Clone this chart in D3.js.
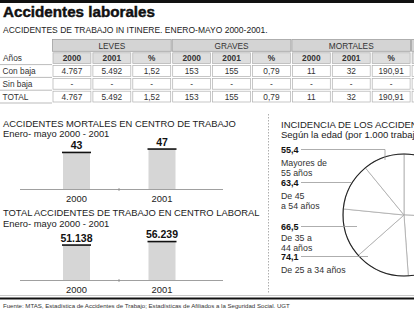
<!DOCTYPE html>
<html>
<head>
<meta charset="utf-8">
<script src="https://cdnjs.cloudflare.com/ajax/libs/d3/7.8.5/d3.min.js"></script>
<style>
  body { margin: 0; background: #fff; }
  svg { display: block; font-family: Arial, "Liberation Sans", sans-serif; }
  .cell-text { fill: #333; font-size: 8.3px; }
</style>
</head>
<body>
<script>
// table
const groups = ['LEVES', 'GRAVES', 'MORTALES'];
const subCols = ['2000', '2001', '%'];
const rowLabels = ['Con baja', 'Sin baja', 'TOTAL'];
const levesVals = [['4.767', '5.492', '1,52'], ['-', '-', '-'], ['4.767', '5.492', '1,52']];
const gravesVals = [['153', '155', '0,79'], ['-', '-', '-'], ['153', '155', '0,79']];
const mortalesVals = [['11', '32', '190,91'], ['-', '-', '-'], ['11', '32', '190,91']];

// bars
const years = ['2000', '2001'];
const mortalesCentro = [43, 47];
const totalCentro = [51138, 56239];

// pie (the right half is cut off in the original)
const edades = ['De 16 a 19 años', 'De 20 a 24 años', 'De 25 a 34 años', 'De 35 a 44 años', 'De 45 a 54 años', 'Mayores de 55 años'];
const incidencia = [130, 118, 74.1, 66.5, 63.4, 55.4];

const W = 414, H = 311;
const es = d3.formatLocale({decimal: ',', thousands: '.', grouping: [3], currency: ['', '€']});
const fmt = es.format(',d');

const svg = d3.select('body').append('svg')
  .attr('width', W)
  .attr('height', H);

// top bar + title
svg.append('rect').attr('x', 0).attr('y', 0).attr('width', W).attr('height', 3).attr('fill', '#111');
svg.append('text')
  .attr('x', 3).attr('y', 17)
  .attr('font-size', 15.2).attr('font-weight', 'bold').attr('fill', '#111')
  .attr('stroke', '#111').attr('stroke-width', 0.45)
  .text('Accidentes laborales');
svg.append('text')
  .attr('x', 3).attr('y', 32.5)
  .attr('font-size', 8.5).attr('fill', '#222')
  .text('ACCIDENTES DE TRABAJO IN ITINERE. ENERO-MAYO 2000-2001.');

// ---- table ----
const colX = d3.scaleBand().domain(d3.range(10)).range([52, 451]);
const rowY = d3.scaleBand().domain(['h1', 'h2'].concat(rowLabels)).range([39, 103]);

const table = svg.append('g');

// label column
table.append('text').attr('class', 'cell-text').attr('font-size', 8.6)
  .attr('x', 3).attr('y', rowY('h2') + 9.5).text('Años');
rowLabels.forEach(function(r) {
  table.append('text').attr('class', 'cell-text').attr('font-size', 9)
    .attr('x', 2.5).attr('y', rowY(r) + 9.7).text(r);
});
['h2'].concat(rowLabels).forEach(function(r) {
  table.append('line')
    .attr('x1', 0).attr('x2', 52)
    .attr('y1', rowY(r) + rowY.bandwidth()).attr('y2', rowY(r) + rowY.bandwidth())
    .attr('stroke', '#aaa').attr('stroke-width', 0.8);
});

// group headers
const allVals = [levesVals, gravesVals, mortalesVals];
groups.concat(['']).forEach(function(g, gi) {
  const x0 = colX(gi * 3);
  const wd = gi < 3 ? colX.step() * 3 : colX.step();
  table.append('rect')
    .attr('x', x0 + 0.5).attr('y', rowY('h1') + 0.5)
    .attr('width', wd - 1).attr('height', rowY.bandwidth() - 1)
    .attr('fill', '#d4d4d4').attr('stroke', '#a0a0a0').attr('stroke-width', 0.8);
  table.append('text').attr('class', 'cell-text').attr('font-size', 9.3)
    .attr('text-anchor', 'middle')
    .attr('x', x0 + wd / 2).attr('y', rowY('h1') + 10)
    .text(g);
});

// sub headers + cells
d3.range(10).forEach(function(ci) {
  const gi = Math.floor(ci / 3);
  const si = ci % 3;
  table.append('rect')
    .attr('x', colX(ci) + 1).attr('y', rowY('h2') + 1)
    .attr('width', colX.step() - 2).attr('height', rowY.bandwidth() - 2)
    .attr('fill', '#dedede').attr('stroke', '#b0b0b0').attr('stroke-width', 0.7);
  if (gi < 3) {
    table.append('text').attr('class', 'cell-text')
      .attr('font-size', 7.4).attr('font-weight', 'bold')
      .attr('text-anchor', 'middle')
      .attr('x', colX(ci) + colX.step() / 2).attr('y', rowY('h2') + 9)
      .text(subCols[si]);
  }
  rowLabels.forEach(function(r, ri) {
    table.append('rect')
      .attr('x', colX(ci) + 1).attr('y', rowY(r) + 1)
      .attr('width', colX.step() - 2).attr('height', rowY.bandwidth() - 2)
      .attr('fill', '#fff').attr('stroke', '#b0b0b0').attr('stroke-width', 0.7);
    if (gi < 3) {
      table.append('text').attr('class', 'cell-text')
        .attr('text-anchor', 'middle')
        .attr('x', colX(ci) + colX.step() / 2).attr('y', rowY(r) + 9.5)
        .text(allVals[gi][ri][si]);
    }
  });
});

// ---- separators ----
svg.append('line')
  .attr('x1', 268.5).attr('x2', 268.5).attr('y1', 114).attr('y2', 294)
  .attr('stroke', '#999').attr('stroke-width', 0.8).attr('stroke-dasharray', '1.5,1.5');
svg.append('line')
  .attr('x1', 0).attr('x2', W).attr('y1', 295.5).attr('y2', 295.5)
  .attr('stroke', '#bbb').attr('stroke-width', 0.8);
svg.append('rect').attr('x', 0).attr('y', 297.5).attr('width', W).attr('height', 2).attr('fill', '#111');
svg.append('text')
  .attr('x', 3).attr('y', 307.5)
  .attr('font-size', 6.1).attr('fill', '#333')
  .text('Fuente: MTAS, Estadística de Accidentes de Trabajo; Estadísticas de Afiliados a la Seguridad Social. UGT');

// ---- bar charts ----
function barChart(top, base, title, values, maxVal, hMax) {
  const g = svg.append('g');
  g.append('text').attr('x', 3).attr('y', top).attr('font-size', 9.4).attr('fill', '#222').text(title);
  g.append('text').attr('x', 3).attr('y', top + 10.8).attr('font-size', 9.4).attr('fill', '#222').text('Enero- mayo 2000 - 2001');

  const x = d3.scalePoint().domain(years).range([76.5, 162]);
  const y = d3.scaleLinear().domain([0, maxVal]).range([base, base - hMax]);
  const bw = 27;

  g.append('line').attr('x1', 20).attr('x2', 223).attr('y1', base + 0.5).attr('y2', base + 0.5)
    .attr('stroke', '#888').attr('stroke-width', 0.8);
  g.append('line').attr('x1', 119).attr('x2', 119).attr('y1', base - 1).attr('y2', base + 2)
    .attr('stroke', '#888').attr('stroke-width', 0.8);

  g.selectAll('rect.bar').data(values).join('rect')
    .attr('class', 'bar')
    .attr('x', (d, i) => x(years[i]) - bw / 2)
    .attr('y', d => y(d))
    .attr('width', bw)
    .attr('height', d => base - y(d))
    .attr('fill', '#d6d6d6');
  g.selectAll('line.cap').data(values).join('line')
    .attr('class', 'cap')
    .attr('x1', (d, i) => x(years[i]) - bw / 2 - 1)
    .attr('x2', (d, i) => x(years[i]) + bw / 2 + 1)
    .attr('y1', d => y(d)).attr('y2', d => y(d))
    .attr('stroke', '#111').attr('stroke-width', 1.6);
  g.selectAll('text.val').data(values).join('text')
    .attr('class', 'val')
    .attr('x', (d, i) => x(years[i]))
    .attr('y', d => y(d) - 3.5)
    .attr('text-anchor', 'middle')
    .attr('font-size', 10.5).attr('font-weight', 'bold').attr('fill', '#111')
    .text(d => fmt(d));
  g.selectAll('text.yr').data(years).join('text')
    .attr('class', 'yr')
    .attr('x', d => x(d))
    .attr('y', base + 12.5)
    .attr('text-anchor', 'middle')
    .attr('font-size', 9.4).attr('fill', '#222')
    .text(d => d);
}

barChart(126.5, 189, 'ACCIDENTES MORTALES EN CENTRO DE TRABAJO', mortalesCentro, 50, 42.5);
barChart(216, 280, 'TOTAL ACCIDENTES  DE TRABAJO EN CENTRO LABORAL', totalCentro, 60000, 41);

// ---- pie ----
svg.append('text').attr('x', 281).attr('y', 128).attr('font-size', 9.5).attr('fill', '#222')
  .text('INCIDENCIA DE LOS ACCIDENTES');
svg.append('text').attr('x', 281).attr('y', 137.5).attr('font-size', 9.5).attr('fill', '#222')
  .text('Según la edad (por 1.000 trabajadores)');

const cx = 404, cy = 215, R = 61;
const pie = d3.pie().sort(null).value(d => d)(incidencia);
const arc = d3.arc().innerRadius(0).outerRadius(R);
const pg = svg.append('g').attr('transform', `translate(${cx},${cy})`);
pg.selectAll('path').data(pie).join('path')
  .attr('d', arc)
  .attr('fill', '#fff')
  .attr('stroke', '#aaa').attr('stroke-width', 0.8);
pg.append('circle').attr('r', R).attr('fill', 'none').attr('stroke', '#222').attr('stroke-width', 1.1);

// labels for visible slices
const labelY = [null, null, 256.5, 226.5, 182.5, 149.5];
const firstGap = [null, null, 13.5, 11, 13.5, 13.5];
const labelLines = [null, null, ['De 25 a 34 años'], ['De 35 a', '44 años'], ['De 45', 'a 54 años'], ['Mayores de', '55 años']];
const leaderX = [null, null, 368, 357, 352, 385];
pie.forEach(function(p, i) {
  if (labelY[i] === null) return;
  const ly = labelY[i];
  svg.append('text').attr('x', 281).attr('y', ly + 3.2)
    .attr('font-size', 9).attr('font-weight', 'bold').attr('fill', '#111')
    .text(String(incidencia[i]).replace('.', ','));
  labelLines[i].forEach(function(t, k) {
    svg.append('text').attr('x', 281).attr('y', ly + firstGap[i] + 3.2 + k * 9.8)
      .attr('font-size', 8.8).attr('fill', '#333').text(t);
  });
  const pts = [[301, ly], [leaderX[i], ly]];
  if (i === 5) pts.push([leaderX[i], 160]);
  svg.append('path')
    .attr('d', d3.line()(pts))
    .attr('fill', 'none').attr('stroke', '#999').attr('stroke-width', 0.8);
});
</script>
</body>
</html>
